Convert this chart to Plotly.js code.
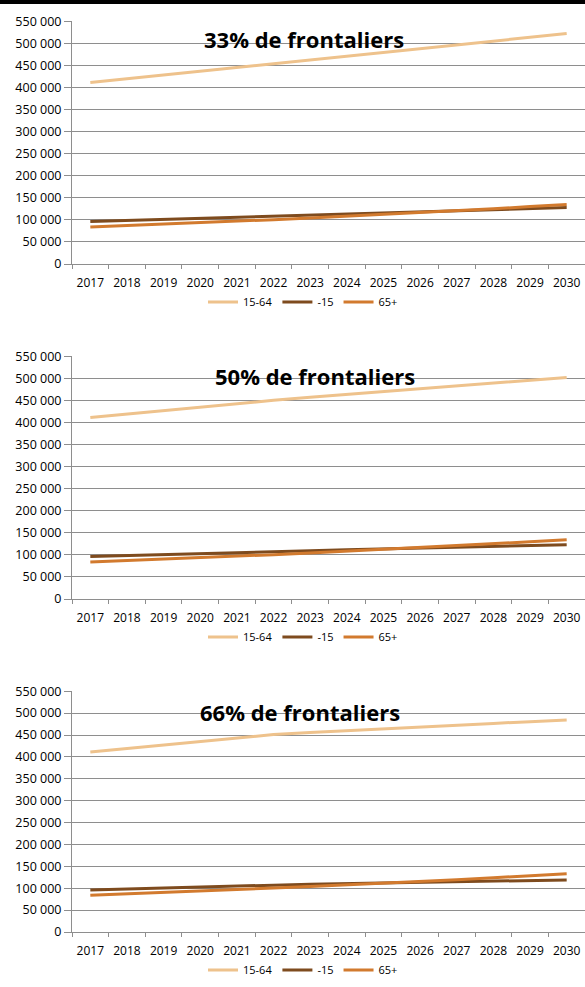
<!DOCTYPE html>
<html>
<head>
<meta charset="utf-8">
<script src="https://cdn.plot.ly/plotly-3.0.1.min.js"></script>
<style>
  html, body { margin: 0; padding: 0; background: #fff; }
  #graph { width: 585px; height: 987px; }
</style>
</head>
<body>
<div id="graph"></div>
<script>
// Années de projection
var annees = ['2017', '2018', '2019', '2020', '2021', '2022', '2023', '2024', '2025', '2026', '2027', '2028', '2029', '2030'];

// Scénario 33% de frontaliers
var pop1564_33 = [411000, 419500, 428000, 436500, 445000, 453500, 462000, 470500, 479000, 487500, 496000, 504500, 513000, 522000];
var moins15_33 = [96000, 98500, 101000, 103500, 106000, 108500, 111000, 113500, 116000, 118500, 121000, 123500, 126000, 128000];
var plus65_33 = [84000, 87000, 90000, 93500, 97000, 100500, 104000, 108000, 112000, 116000, 120500, 125000, 130000, 135000];

// Scénario 50% de frontaliers
var pop1564_50 = [411000, 419000, 427000, 435000, 443000, 450000, 457000, 463500, 470000, 476500, 483000, 489500, 496000, 502000];
var moins15_50 = [96000, 98500, 101000, 103000, 105500, 107500, 109500, 111500, 113500, 115500, 117500, 119500, 121500, 123000];
var plus65_50 = [84000, 87000, 90000, 93500, 97000, 100500, 104000, 108000, 112000, 116000, 120500, 125000, 129500, 134000];

// Scénario 66% de frontaliers
var pop1564_66 = [411000, 419000, 427000, 435000, 443000, 451000, 455500, 460000, 464500, 468500, 472500, 476500, 480500, 484000];
var moins15_66 = [96000, 98500, 101000, 103000, 105000, 107000, 109000, 110500, 112000, 113500, 115000, 116500, 118000, 119000];
var plus65_66 = [84000, 87000, 90000, 93500, 97000, 100500, 104000, 107500, 111000, 115000, 119500, 124000, 128500, 133000];

var titres = ['33% de frontaliers', '50% de frontaliers', '66% de frontaliers'];
var noms = ['15-64', '-15', '65+'];
var couleurs = ['#EEC28C', '#7E4B1E', '#D27A2E'];

var scenarios = [
    [pop1564_33, moins15_33, plus65_33],
    [pop1564_50, moins15_50, plus65_50],
    [pop1564_66, moins15_66, plus65_66]
];

var H = 987, W = 585;
function py(px) { return 1 - px / H; }   // pixel -> coordonnée papier
function pxx(px) { return px / W; }

// position de chaque graphique (haut, bas de la zone de tracé, légende, titre)
var zones = [
    { haut: 21, bas: 264, legende: 302, titreX: 304, titreY: 39 },
    { haut: 356, bas: 599, legende: 637, titreX: 315, titreY: 376 },
    { haut: 691, bas: 932, legende: 970, titreX: 300, titreY: 712 }
];

var gris = '#8E8E8E';
var policeX = { family: 'Open Sans, sans-serif', size: 12, color: '#000' };
var policeY = { family: 'Open Sans, sans-serif', size: 12.5, color: '#000' };

var traces = [];
var layout = {
    width: W,
    height: H,
    margin: { l: 0, r: 0, t: 0, b: 0 },
    paper_bgcolor: '#fff',
    plot_bgcolor: '#fff',
    separators: ', ',
    font: policeX,
    annotations: [],
    shapes: [{
        type: 'rect', xref: 'paper', yref: 'paper',
        x0: 0, x1: 1, y0: py(4), y1: 1,
        fillcolor: '#000', line: { width: 0 }
    }]
};

scenarios.forEach(function(series, k) {
    var suffixe = k === 0 ? '' : String(k + 1);
    var z = zones[k];
    series.forEach(function(valeurs, i) {
        traces.push({
            x: annees,
            y: valeurs,
            type: 'scatter',
            mode: 'lines',
            name: noms[i],
            xaxis: 'x' + suffixe,
            yaxis: 'y' + suffixe,
            legend: 'legend' + suffixe,
            line: { color: couleurs[i], width: 3 },
            hoverinfo: 'x+y'
        });
    });

    layout['xaxis' + suffixe] = {
        type: 'category',
        domain: [pxx(72), 1],
        anchor: 'y' + suffixe,
        range: [-0.5, 13.5],
        tickson: 'boundaries',
        ticks: 'outside',
        ticklen: 4,
        tickcolor: gris,
        tickangle: 0,
        ticklabelstandoff: 8,
        showline: true,
        linecolor: gris,
        linewidth: 1,
        showgrid: false,
        tickfont: policeX,
        fixedrange: true
    };
    layout['yaxis' + suffixe] = {
        domain: [py(z.bas), py(z.haut)],
        anchor: 'x' + suffixe,
        range: [0, 550500],
        dtick: 50000,
        tickformat: ',d',
        ticks: 'outside',
        ticklen: 7,
        tickcolor: gris,
        showline: true,
        linecolor: gris,
        showgrid: true,
        gridcolor: gris,
        gridwidth: 1,
        zeroline: false,
        tickfont: policeY,
        fixedrange: true
    };
    layout['legend' + suffixe] = {
        orientation: 'h',
        x: pxx(303),
        xanchor: 'center',
        y: py(z.legende),
        yanchor: 'middle',
        font: { family: 'Open Sans, sans-serif', size: 11, color: '#000' },
        bgcolor: 'rgba(0,0,0,0)',
        itemwidth: 30,
        tracegroupgap: 0
    };
    layout.annotations.push({
        text: '<b>' + titres[k] + '</b>',
        xref: 'paper', yref: 'paper',
        x: pxx(z.titreX), y: py(z.titreY),
        xanchor: 'center', yanchor: 'middle',
        showarrow: false,
        font: { family: 'Open Sans, sans-serif', size: 22, color: '#000' }
    });
});

Plotly.newPlot('graph', traces, layout, { displayModeBar: false, staticPlot: true });
</script>
</body>
</html>
